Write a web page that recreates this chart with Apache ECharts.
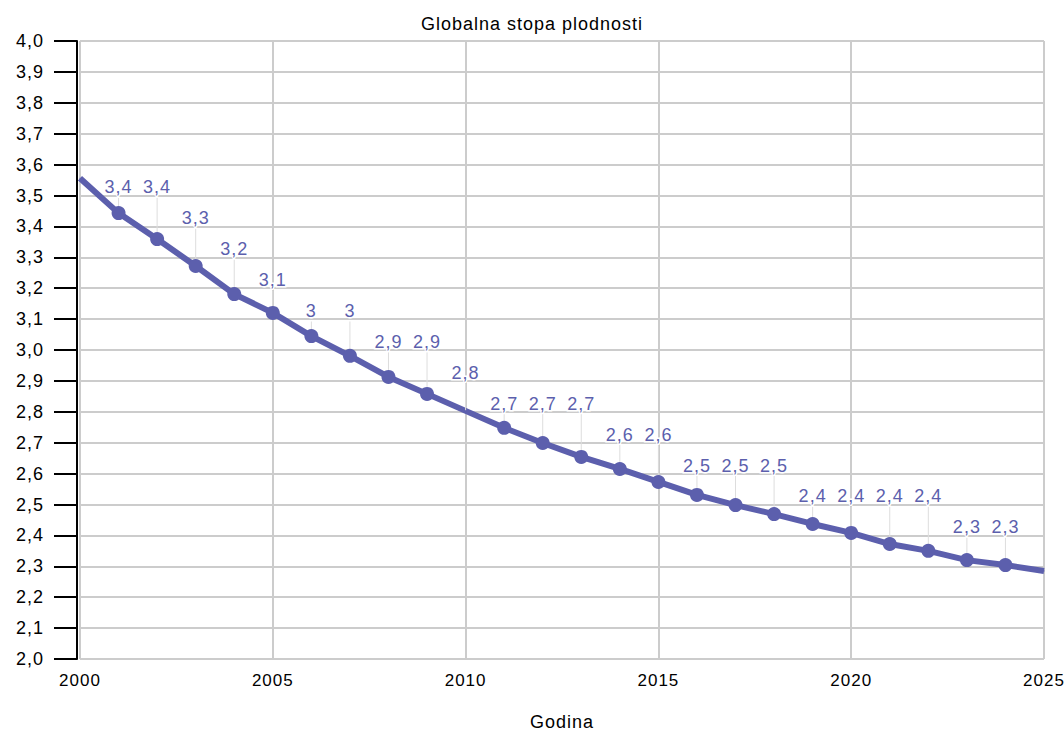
<!DOCTYPE html>
<html>
<head>
<meta charset="utf-8">
<script src="https://cdn.jsdelivr.net/npm/echarts@6/dist/echarts.min.js"></script>
<style>
html,body{margin:0;padding:0;background:#fff}
#c{width:1064px;height:731px}
#c text{letter-spacing:1px}
</style>
</head>
<body>
<div id="c"></div>
<script>
const titleText = 'Globalna stopa plodnosti';
const xName = 'Godina';
const years = [2000,2001,2002,2003,2004,2005,2006,2007,2008,2009,2010,2011,2012,2013,2014,2015,2016,2017,2018,2019,2020,2021,2022,2023,2024,2025];
const fertility = [3.556,3.443,3.359,3.272,3.181,3.120,3.045,2.981,2.913,2.858,2.803,2.748,2.699,2.654,2.615,2.573,2.531,2.498,2.469,2.437,2.408,2.372,2.350,2.320,2.304,2.285];
const labelledYears = [2001,2002,2003,2004,2005,2006,2007,2008,2009,2010,2011,2012,2013,2014,2015,2016,2017,2018,2019,2020,2021,2022,2023,2024];
const unmarkedYears = [2000,2010,2025];

const color = '#5c5fad';
const font = '"Liberation Sans", Arial, sans-serif';
const fmt = v => (Math.round(v * 10) / 10).toString().replace('.', ',');

const chart = echarts.init(document.getElementById('c'), null, { renderer: 'svg' });

const data = years.map((y, i) => {
  const item = { value: [y, fertility[i]] };
  if (unmarkedYears.includes(y)) item.symbolSize = 1;
  if (!labelledYears.includes(y)) item.label = { show: false };
  return item;
});

chart.setOption({
  animation: false,
  title: {
    text: titleText, left: 'center', top: 10,
    textStyle: { fontFamily: font, fontSize: 18, fontWeight: 'normal', color: '#000' }
  },
  grid: { left: 80, right: 20, top: 41, bottom: 72, containLabel: false, outerBoundsMode: 'none' },
  xAxis: {
    type: 'value', min: 2000, max: 2025, interval: 5,
    name: xName, nameLocation: 'middle', nameGap: 54,
    nameTextStyle: { fontFamily: font, fontSize: 18, color: '#000' },
    axisLine: { show: false }, axisTick: { show: false },
    axisLabel: { fontFamily: font, fontSize: 17, color: '#000', margin: 13, formatter: v => String(v) },
    splitLine: { show: true, lineStyle: { color: '#cccccc', width: 2 } }
  },
  yAxis: {
    type: 'value', min: 2.0, max: 4.0, interval: 0.1, offset: 3,
    axisLine: { show: true, lineStyle: { color: '#000', width: 2 } },
    axisTick: { show: true, length: 23, lineStyle: { color: '#000', width: 2 } },
    axisLabel: { fontFamily: font, fontSize: 18, color: '#000', margin: 33,
      formatter: v => v.toFixed(1).replace('.', ',') },
    splitLine: { show: true, lineStyle: { color: '#cccccc', width: 2 } }
  },
  series: [{
    type: 'line',
    data: data,
    symbol: 'circle', symbolSize: 14,
    lineStyle: { color: color, width: 6 },
    itemStyle: { color: color },
    label: {
      show: true, position: 'top', fontFamily: font, fontSize: 18, color: color,
      textBorderColor: '#fff', textBorderWidth: 3,
      formatter: p => fmt(p.value[1])
    },
    labelLine: { show: true, lineStyle: { color: '#dddddd', width: 1 } },
    labelLayout: function (params) {
      const i = params.dataIndex;
      const r = Math.round(fertility[i] * 10) / 10;
      const p = chart.convertToPixel({ gridIndex: 0 }, [years[i], r]);
      return {
        x: params.rect.x + params.rect.width / 2,
        y: p[1] - 39,
        align: 'center', verticalAlign: 'middle'
      };
    },
    z: 3
  }]
});
</script>
</body>
</html>
